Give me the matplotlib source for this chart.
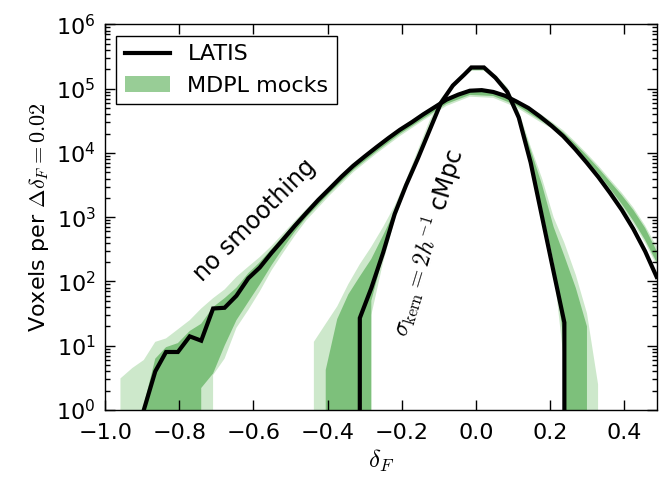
import matplotlib
matplotlib.use('Agg')
import matplotlib.pyplot as plt
from matplotlib.lines import Line2D
from matplotlib.patches import Patch
from matplotlib.ticker import NullFormatter

params = {
    'font.family': 'DejaVu Sans',
    'mathtext.fontset': 'cm',
    'axes.linewidth': 1.0,
    'xtick.labelsize': 16,
    'ytick.labelsize': 16,
    'axes.labelsize': 16,
    'legend.fontsize': 16,
}
plt.rcParams.update(params)

# LATIS, sin suavizado
delta_full = [-0.896, -0.865, -0.836, -0.804, -0.772, -0.741, -0.709, -0.678, -0.646, -0.614,
              -0.583, -0.551, -0.520, -0.488, -0.457, -0.425, -0.394, -0.362, -0.331, -0.299,
              -0.268, -0.236, -0.205, -0.173, -0.142, -0.110, -0.079, -0.047, -0.016, 0.016,
              0.047, 0.079, 0.110, 0.142, 0.173, 0.205, 0.236, 0.268, 0.299, 0.331,
              0.362, 0.394, 0.425, 0.457, 0.488]
latis_full = [1, 4, 8, 8, 14, 12, 38, 39, 60, 112,
              165, 280, 450, 740, 1170, 1860, 2800, 4300, 6300, 8900,
              12300, 17000, 22900, 30000, 39800, 52000, 67600, 81000, 93000, 95000,
              89000, 77600, 63000, 50000, 37000, 26300, 18200, 11500, 7100, 4200,
              2400, 1300, 660, 295, 118]

# LATIS, suavizado con sigma_kern = 2 h^-1 cMpc
delta_smooth = [-0.344, -0.313, -0.282, -0.250, -0.219, -0.188, -0.156, -0.125, -0.094, -0.062,
                -0.031, -0.012, 0.022, 0.053, 0.085, 0.116, 0.148, 0.179, 0.210, 0.239, 0.270]
latis_smooth = [0, 27, 79, 282, 1120, 3160, 8300, 22400, 60300, 112000,
                166000, 214000, 214000, 148000, 89000, 35500, 7100, 1000, 141, 23, 0]

# mocks MDPL, sin suavizado (bandas clara y oscura)
delta_mock_full = [-0.959, -0.927, -0.896, -0.865, -0.836, -0.804, -0.772, -0.741, -0.709, -0.678,
                   -0.646, -0.614, -0.583, -0.551, -0.520, -0.488, -0.457, -0.394, -0.331, -0.268,
                   -0.205, -0.142, -0.079, -0.016, 0.047, 0.110, 0.173, 0.205, 0.236, 0.268,
                   0.299, 0.331, 0.362, 0.394, 0.425, 0.457, 0.488]
full_lo_light = [0, 0, 0, 0, 0, 0, 0, 0, 3.5, 6.3,
                 19, 36, 70, 150, 280, 520, 900, 2200, 5000, 9800,
                 18300, 32000, 54000, 75000, 72000, 51000, 30500, 24000, 17000, 11000,
                 7200, 4400, 2600, 1450, 800, 400, 180]
full_lo_dark = [0, 0, 0, 0, 0, 0, 0, 2.2, 3.7, 10,
                25, 48, 90, 180, 330, 600, 1000, 2400, 5400, 10500,
                19700, 34000, 58000, 80000, 77000, 55000, 32500, 25500, 18500, 12000,
                7800, 4800, 2800, 1600, 880, 440, 200]
full_hi_dark = [0, 0, 1.2, 6.3, 9.5, 11, 17, 22, 40, 55,
                80, 135, 200, 320, 510, 820, 1280, 2950, 6500, 12700,
                23500, 41000, 69500, 94000, 91000, 64500, 39000, 29000, 21000, 14000,
                9200, 5800, 3600, 2200, 1300, 680, 300]
full_hi_light = [3.1, 4.5, 6, 11.5, 13, 18, 25, 38, 55, 75,
                 118, 170, 240, 360, 560, 880, 1350, 3100, 6900, 13300,
                 24700, 43000, 73000, 98000, 95000, 67500, 41000, 30500, 22500, 15000,
                 9900, 6300, 3900, 2400, 1420, 740, 350]

# mocks MDPL, suavizados
delta_mock_smooth = [-0.437, -0.405, -0.374, -0.344, -0.313, -0.282, -0.250, -0.219, -0.188, -0.156,
                     -0.125, -0.094, -0.062, -0.031, -0.012, 0.022, 0.053, 0.085, 0.116, 0.148,
                     0.179, 0.210, 0.239, 0.270, 0.300, 0.330]
smooth_lo_light = [0, 0, 0, 0, 0, 30, 200, 900, 2800, 7600,
                   21000, 57000, 100000, 155000, 190000, 190000, 140000, 88000, 36000, 7500,
                   1100, 160, 5, 0, 0, 0]
smooth_lo_dark = [0, 0, 0, 0, 0, 50, 250, 1000, 3000, 8000,
                  22000, 59000, 105000, 160000, 195000, 195000, 145000, 90000, 38000, 8000,
                  1300, 200, 10, 0, 0, 0]
smooth_hi_dark = [0, 4.2, 26, 63, 120, 224, 525, 1230, 3020, 8900,
                  26300, 66000, 115000, 165000, 202000, 205000, 160000, 100000, 39800, 11200,
                  3160, 708, 250, 79, 20, 0]
smooth_hi_light = [11.5, 22, 41, 91, 186, 347, 708, 1510, 3800, 11200,
                   31600, 70800, 118000, 168000, 205000, 210000, 165000, 105000, 44700, 12600,
                   3980, 1000, 400, 126, 32, 2.5]

verde_claro = '#cde8cb'
verde_oscuro = '#7dc07b'
verde_leyenda = '#98cd96'

fig = plt.figure(figsize=(6.62, 4.79), dpi=100)
ax = fig.add_axes([0.159, 0.144, 0.834, 0.805])

ax.fill_between(delta_mock_full, full_lo_light, full_hi_light, color=verde_claro, lw=0)
ax.fill_between(delta_mock_smooth, smooth_lo_light, smooth_hi_light, color=verde_claro, lw=0)
ax.fill_between(delta_mock_full, full_lo_dark, full_hi_dark, color=verde_oscuro, lw=0)
ax.fill_between(delta_mock_smooth, smooth_lo_dark, smooth_hi_dark, color=verde_oscuro, lw=0)

ax.plot(delta_full, latis_full, c='black', lw=3, solid_joinstyle='miter')
ax.plot(delta_smooth, latis_smooth, c='black', lw=3, solid_joinstyle='miter')

ax.set_yscale('log')
ax.set_ylim(1, 1e6)
ax.set_xlim(-1.0, 0.49)
ax.set_xticks([-1.0, -0.8, -0.6, -0.4, -0.2, 0.0, 0.2, 0.4])
ax.yaxis.set_minor_formatter(NullFormatter())
ax.tick_params(which='both', direction='in', top=True, right=True)
ax.tick_params(axis='x', pad=9)
ax.tick_params(axis='y', pad=7)
ax.tick_params(which='major', length=7, width=1)
ax.tick_params(which='minor', length=3.5, width=1)

ax.set_xlabel(r'$\delta_F$', fontsize=18)
ax.set_ylabel(r'Voxels per $\Delta\delta_F = 0.02$')

ax.text(-0.597, 900, 'no smoothing', fontsize=17, rotation=45,
        ha='center', va='center', rotation_mode='anchor')
ax.text(-0.130, 400, r'$\sigma_{\rm kern} = 2h^{-1}$ cMpc', fontsize=17, rotation=73,
        ha='center', va='center', rotation_mode='anchor')

handles = [Line2D([], [], c='black', lw=3), Patch(color=verde_leyenda, lw=0)]
leg = ax.legend(handles, ['LATIS', 'MDPL mocks'], loc='upper left', fancybox=False,
                edgecolor='black', framealpha=1, borderaxespad=0.5)
leg.get_frame().set_linewidth(1.0)

plt.savefig('out.png', dpi=100)
